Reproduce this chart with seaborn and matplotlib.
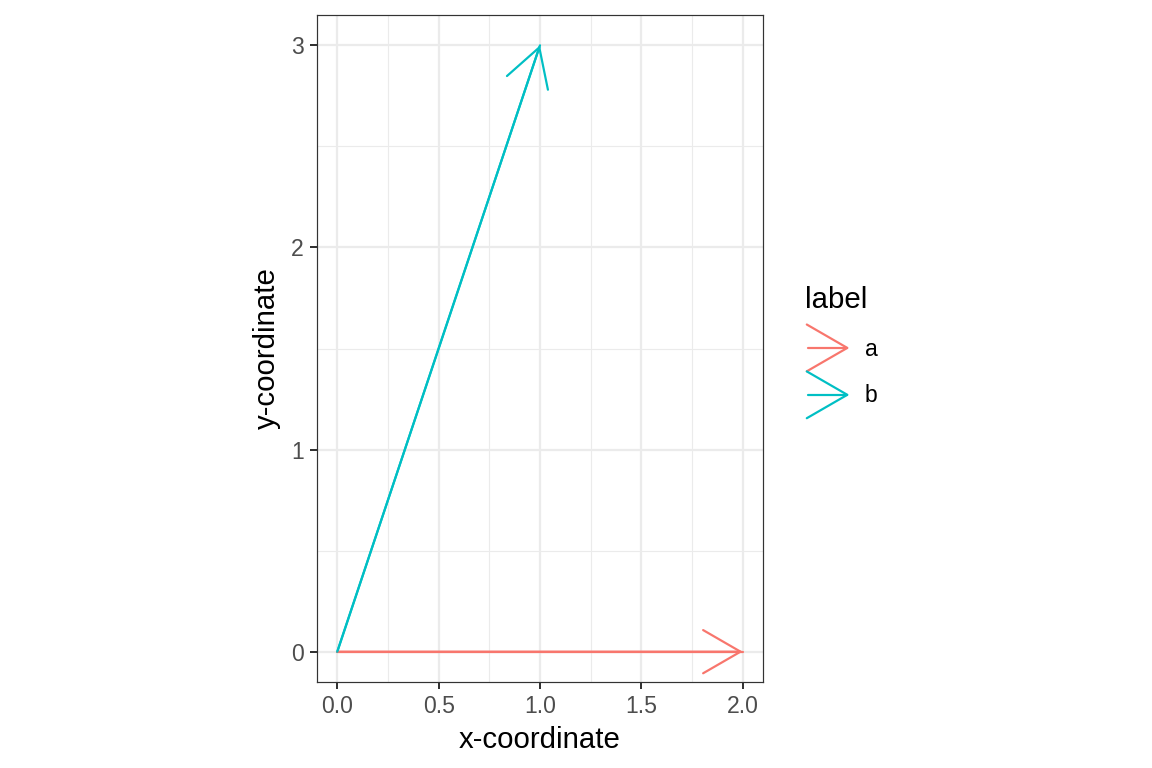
import numpy as np
import pandas as pd
import matplotlib
matplotlib.use("Agg")
import matplotlib.pyplot as plt
from matplotlib.lines import Line2D
from matplotlib.legend_handler import HandlerBase
import seaborn as sns

# vectors, all starting at the origin
labels = ["a", "b"]
x_start = [0.0, 0.0]
y_start = [0.0, 0.0]
x_end = [2.0, 1.0]
y_end = [0.0, 3.0]
colors = ["#F8766D", "#00BFC4"]

x_ticks = [0.0, 0.5, 1.0, 1.5, 2.0]
y_ticks = [0, 1, 2, 3]

HEAD_LEN = 23.4   # points, side length of the legend arrow head
HEAD_LEN_AX = 18.7  # same head as drawn by annotate
HEAD_ANGLE = 30   # degrees

sns.set_theme(style="white")
plt.rcParams['font.family'] = ['Liberation Sans', 'DejaVu Sans']
plt.rcParams['text.color'] = 'black'

rows = []
for lab, xs, ys, xe, ye in zip(labels, x_start, y_start, x_end, y_end):
    rows.append({"label": lab, "x": xs, "y": ys, "step": 0})
    rows.append({"label": lab, "x": xe, "y": ye, "step": 1})
df = pd.DataFrame(rows)
palette = dict(zip(labels, colors))


class ArrowHandler(HandlerBase):
    def create_artists(self, legend, orig_handle, xdescent, ydescent,
                       width, height, fontsize, trans):
        color = orig_handle.get_color()
        y = height / 2 - ydescent
        x1 = width - xdescent
        dx = HEAD_LEN * np.cos(np.radians(HEAD_ANGLE))
        dy = HEAD_LEN * np.sin(np.radians(HEAD_ANGLE))
        shaft = Line2D([x1 - 19.5, x1], [y, y], color=color, lw=1.1,
                       transform=trans)
        head = Line2D([x1 - dx, x1, x1 - dx], [y + dy, y, y - dy],
                      color=color, lw=1.1, transform=trans)
        return [shaft, head]


fig = plt.figure(figsize=(8, 768 / 144), dpi=144)
ax = fig.add_axes([317 / 1152, 1 - 682 / 768, 446 / 1152, 667 / 768])

sns.lineplot(data=df, x="x", y="y", hue="label", units="label",
             estimator=None, sort=False, palette=palette, lw=1.1,
             legend=False, ax=ax)

for lab, xs, ys, xe, ye in zip(labels, x_start, y_start, x_end, y_end):
    ax.annotate("", xy=(xe, ye), xytext=(xs, ys),
                arrowprops=dict(
                    arrowstyle=f"->,head_length={HEAD_LEN_AX},"
                               f"head_width={HEAD_LEN_AX * np.tan(np.radians(HEAD_ANGLE)):.2f}",
                    color=palette[lab], lw=1.1, mutation_scale=1,
                    shrinkA=0, shrinkB=0, joinstyle="miter"))

ax.set_xlim(-0.1, 2.1)
ax.set_ylim(-0.15, 3.15)
ax.set_xticks(x_ticks)
ax.set_xticklabels([f"{v:.1f}" for v in x_ticks])
ax.set_yticks(y_ticks)
ax.set_xticks(np.arange(0.25, 2.0, 0.5), minor=True)
ax.set_yticks(np.arange(0.5, 3.0, 1.0), minor=True)

ax.grid(which="major", color="#EBEBEB", lw=1.1)
ax.grid(which="minor", color="#EBEBEB", lw=0.55)
ax.set_axisbelow(True)
for s in ax.spines.values():
    s.set_color("#333333")
    s.set_linewidth(0.6)

ax.tick_params(which="major", direction="out", length=3.6, width=1.0,
               color="#333333", labelcolor="#4D4D4D", labelsize=11.5, pad=3,
               bottom=True, left=True)
ax.tick_params(which="minor", length=0)

ax.set_xlabel("x-coordinate", fontsize=14.7, color="black", labelpad=4)
ax.set_ylabel("y-coordinate", fontsize=14.7, color="black", labelpad=5)

handles = [Line2D([], [], color=c) for c in colors]
leg = fig.legend(handles, labels, title="label", handler_map={Line2D: ArrowHandler()},
                 loc="upper left", bbox_to_anchor=(805 / 1152, 1 - 286 / 768),
                 frameon=False, fontsize=11.5, title_fontsize=14.7,
                 handlelength=1.84, handleheight=1.36, handletextpad=0.75,
                 labelspacing=0.91, borderaxespad=0, borderpad=0,
                 labelcolor="black")
leg.get_title().set_color("black")
leg._legend_box.align = "left"

fig.savefig("out.png", dpi=144)
